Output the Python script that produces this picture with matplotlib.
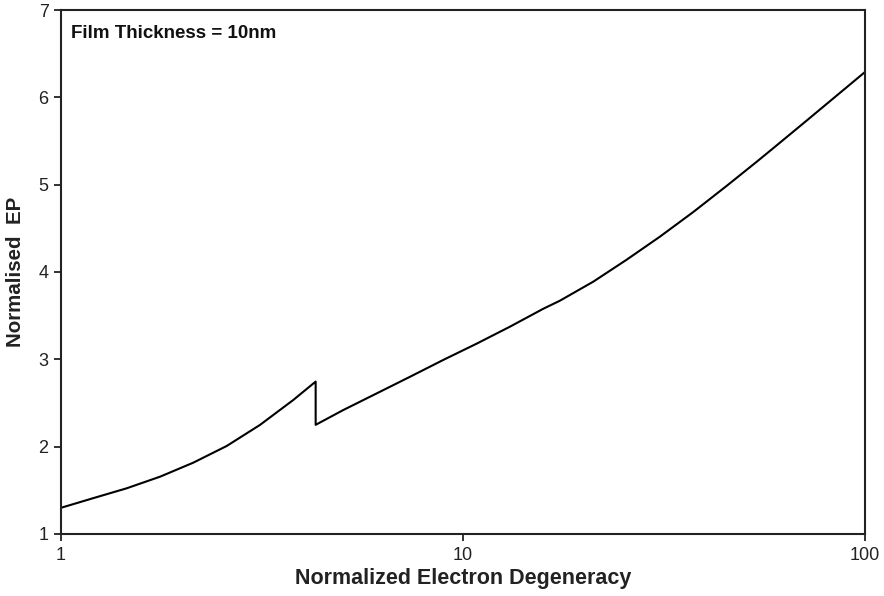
import matplotlib
matplotlib.use("Agg")
import matplotlib.pyplot as plt
from matplotlib.ticker import FixedLocator, FixedFormatter, NullLocator

plt.rcParams['font.family'] = ['Liberation Sans', 'DejaVu Sans']

# Normalised EP versus normalised electron degeneracy (10 nm film);
# the sub-band transition near 4.3 gives the vertical drop.
degeneracy = [1.0, 1.20, 1.456, 1.763, 2.134, 2.584, 3.126, 3.784, 4.3,
              4.3, 5.04, 6.10, 7.38, 8.93, 10.82, 13.1, 15.85, 17.4, 21.1,
              25.5, 30.9, 37.4, 45.3, 53.8, 59.1, 71.6, 100.0]
norm_ep = [1.30, 1.409, 1.523, 1.656, 1.817, 2.008, 2.249, 2.535, 2.745,
           2.25, 2.42, 2.61, 2.80, 2.993, 3.18, 3.375, 3.58, 3.67, 3.89,
           4.139, 4.405, 4.687, 4.987, 5.263, 5.417, 5.734, 6.29]

x_ticks = [1, 10, 100]
x_tick_labels = ['1', '10', '100']
y_ticks = [1, 2, 3, 4, 5, 6, 7]

fig = plt.figure(figsize=(8.84, 5.96), dpi=100)
ax = fig.add_axes([61 / 884, 1 - 534 / 596, 804 / 884, 524 / 596])

ax.plot(degeneracy, norm_ep, color='black', linewidth=1.5,
        solid_joinstyle='round')

ax.set_xscale('log')
ax.set_xlim(1, 100)
ax.set_ylim(1, 7)
ax.xaxis.set_major_locator(FixedLocator(x_ticks))
ax.xaxis.set_major_formatter(FixedFormatter(x_tick_labels))
ax.xaxis.set_minor_locator(NullLocator())
ax.set_yticks(y_ticks)

for s in ax.spines.values():
    s.set_linewidth(1.5)
    s.set_color('#222222')

ax.tick_params(axis='both', direction='out', length=5, width=1.3,
               labelsize=13, colors='#222222', pad=4)

ax.set_xlabel('Normalized Electron Degeneracy', fontsize=15.5,
              fontweight='bold', color='#222222')
ax.set_ylabel('Normalised  EP', fontsize=14.8, fontweight='bold',
              color='#222222')
ax.xaxis.set_label_coords(0.5, -0.065)
ax.yaxis.set_label_coords(-0.045, 0.5)

ax.text(0.013, 0.955, 'Film Thickness = 10nm', transform=ax.transAxes,
        fontsize=13.5, fontweight='bold', color='#111111',
        va='center', ha='left')

fig.savefig('out.png', dpi=100, facecolor='white')
